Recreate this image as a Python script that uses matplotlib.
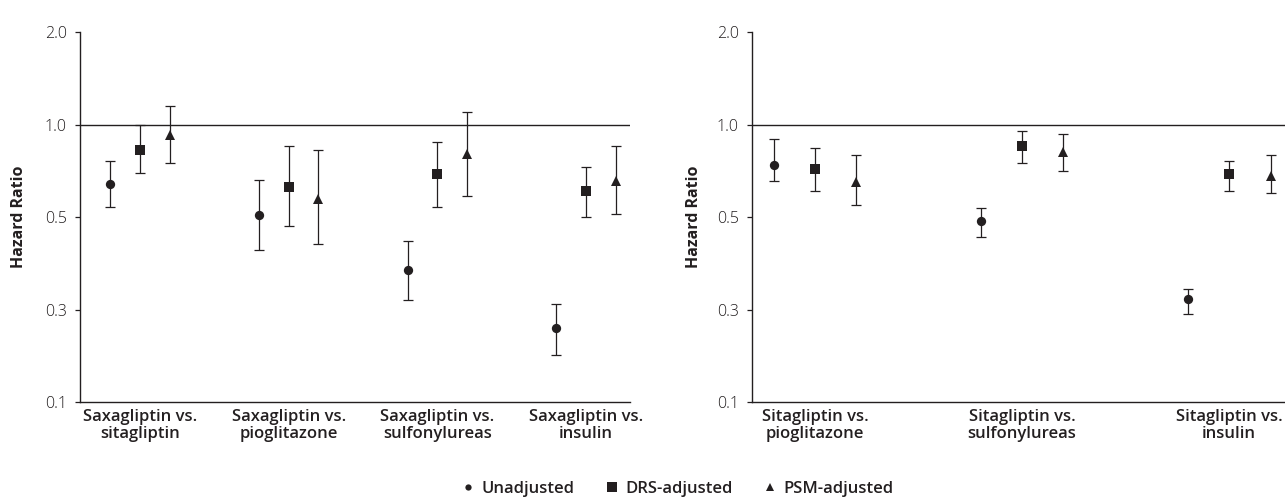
import matplotlib
matplotlib.use("Agg")
import matplotlib.pyplot as plt
from matplotlib.lines import Line2D
import numpy as np

plt.rcParams['font.family'] = ['Open Sans', 'DejaVu Sans']

# ---------------- data ----------------
left_labels = ["Saxagliptin vs.\nsitagliptin", "Saxagliptin vs.\npioglitazone",
               "Saxagliptin vs.\nsulfonylureas", "Saxagliptin vs.\ninsulin"]
left_unadj_hr = [0.639, 0.509, 0.337, 0.218]
left_unadj_lo = [0.539, 0.389, 0.269, 0.178]
left_unadj_hi = [0.759, 0.662, 0.419, 0.260]
left_drs_hr = [0.825, 0.625, 0.690, 0.606]
left_drs_lo = [0.696, 0.467, 0.539, 0.499]
left_drs_hi = [0.993, 0.854, 0.874, 0.729]
left_psm_hr = [0.923, 0.574, 0.804, 0.655]
left_psm_lo = [0.750, 0.408, 0.587, 0.510]
left_psm_hi = [1.153, 0.829, 1.097, 0.849]

right_labels = ["Sitagliptin vs.\npioglitazone", "Sitagliptin vs.\nsulfonylureas",
                "Sitagliptin vs.\ninsulin"]
right_unadj_hr = [0.739, 0.484, 0.271]
right_unadj_lo = [0.655, 0.430, 0.241]
right_unadj_hi = [0.898, 0.536, 0.291]
right_drs_hr = [0.719, 0.850, 0.690]
right_drs_lo = [0.608, 0.750, 0.608]
right_drs_hi = [0.841, 0.951, 0.763]
right_psm_hr = [0.650, 0.812, 0.680]
right_psm_lo = [0.547, 0.704, 0.599]
right_psm_hi = [0.798, 0.930, 0.798]

ytick_vals = [0.125, 0.25, 0.5, 1.0, 2.0]
ytick_labels = ["0.1", "0.3", "0.5", "1.0", "2.0"]
legend_labels = ["Unadjusted", "DRS-adjusted", "PSM-adjusted"]

# ---------------- style ----------------
INK = "#231f20"
W, H = 1285, 499
fig = plt.figure(figsize=(W / 100, H / 100), dpi=100)

def px_axes(x0, x1, ytop, ybot):
    return fig.add_axes([x0 / W, 1 - ybot / H, (x1 - x0) / W, (ybot - ytop) / H])

ax1 = px_axes(80, 630, 32, 402)
ax2 = px_axes(752, 1285, 32, 402)

series_style = [("o", 6.7), ("s", 7.2), ("^", 6.8)]

def draw(ax, labels, data, xlim):
    n = len(labels)
    xs = np.arange(n)
    offsets = [-0.2, 0.0, 0.2]
    for (hr, lo, hi), off, (mk, ms) in zip(data, offsets, series_style):
        hr = np.array(hr); lo = np.array(lo); hi = np.array(hi)
        line, caps, bars = ax.errorbar(xs + off, hr, yerr=[hr - lo, hi - hr],
                                       fmt=mk, ms=ms, color=INK, ecolor=INK,
                                       elinewidth=0.9, capsize=3.6, capthick=0.9)
        line.set_markeredgewidth(0)
    ax.set_yscale("log", base=2)
    ax.set_ylim(0.125, 2.0)
    ax.set_xlim(*xlim)
    ax.axhline(1.0, color=INK, lw=1.0, zorder=0)
    ax.set_yticks(ytick_vals)
    ax.set_yticklabels(ytick_labels, fontweight="light")
    ax.yaxis.set_minor_locator(matplotlib.ticker.NullLocator())
    ax.set_xticks(xs)
    ax.set_xticklabels(labels, fontweight="semibold", fontsize=12, linespacing=1.05,
                       color=INK)
    ax.tick_params(axis="x", length=0, pad=5)
    ax.tick_params(axis="y", length=3.5, width=0.9, pad=6, labelsize=11.5,
                   colors=INK)
    for s in ("top", "right"):
        ax.spines[s].set_visible(False)
    for s in ("left", "bottom"):
        ax.spines[s].set_color(INK)
        ax.spines[s].set_linewidth(1.0)
    ax.set_ylabel("Hazard Ratio", fontweight="bold", fontsize=11.5, color=INK)

draw(ax1, left_labels,
     [(left_unadj_hr, left_unadj_lo, left_unadj_hi),
      (left_drs_hr, left_drs_lo, left_drs_hi),
      (left_psm_hr, left_psm_lo, left_psm_hi)],
     (-0.403, 3.295))
draw(ax2, right_labels,
     [(right_unadj_hr, right_unadj_lo, right_unadj_hi),
      (right_drs_hr, right_drs_lo, right_drs_hi),
      (right_psm_hr, right_psm_lo, right_psm_hi)],
     (-0.304, 2.27))

ax1.yaxis.set_label_coords(-(80 - 27) / 550, 0.5)
ax2.yaxis.set_label_coords(-(752 - 702) / 533, 0.5)

handles = [Line2D([], [], ls="", marker="o", ms=4.5, color=INK, mew=0),
           Line2D([], [], ls="", marker="s", ms=6.5, color=INK, mew=0),
           Line2D([], [], ls="", marker="^", ms=5.5, color=INK, mew=0)]
leg = fig.legend(handles, legend_labels, loc="center left", ncol=3, frameon=False,
                 bbox_to_anchor=(462 / W, 1 - 489 / H), handlelength=0.7,
                 handletextpad=0.45, columnspacing=1.9, borderpad=0,
                 borderaxespad=0, prop={"weight": "semibold", "size": 12})
for t in leg.get_texts():
    t.set_color(INK)

fig.savefig("out.png", dpi=100)
